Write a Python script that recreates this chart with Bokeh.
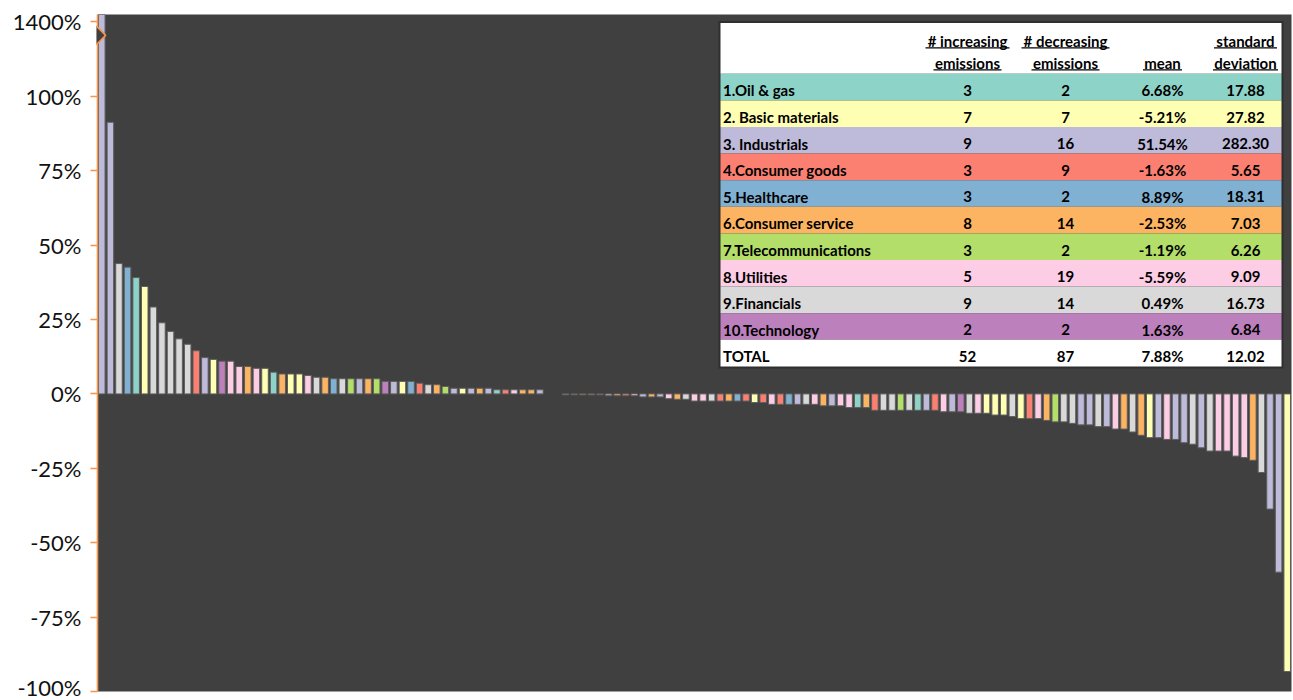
from bokeh.plotting import figure
from bokeh.models import Range1d, FixedTicker, ColumnDataSource
from bokeh.embed import file_html
from bokeh.resources import INLINE
from bokeh.core.properties import value

# ---------------- data ----------------
SECTORS = ["1.Oil & gas", "2. Basic materials", "3. Industrials", "4.Consumer goods",
           "5.Healthcare", "6.Consumer service", "7.Telecommunications", "8.Utilities",
           "9.Financials", "10.Technology"]
SECTOR_COLORS = ["#8dd3c7", "#ffffb3", "#bebada", "#fb8072", "#80b1d3",
                 "#fdb462", "#b3de69", "#fccde5", "#d9d9d9", "#bc80bd"]
N_INCREASING = [3, 7, 9, 3, 3, 8, 3, 5, 9, 2]
N_DECREASING = [2, 7, 16, 9, 2, 14, 2, 19, 14, 2]
MEAN_CHANGE = ["6.68%", "-5.21%", "51.54%", "-1.63%", "8.89%",
               "-2.53%", "-1.19%", "-5.59%", "0.49%", "1.63%"]
STD_DEV = ["17.88", "27.82", "282.30", "5.65", "18.31",
           "7.03", "6.26", "9.09", "16.73", "6.84"]
TOTAL_ROW = ["TOTAL", "52", "87", "7.88%", "12.02"]
HEADER_LINE1 = ["", "# increasing", "# decreasing", "", "standard"]
HEADER_LINE2 = ["", "emissions", "emissions", "mean", "deviation"]

# change in emissions (%) per company, sorted; sector number (1..10) per company
bar_values = [
    1400, 91.3, 43.8, 42.6, 39.1, 36.1, 29.2, 23.9, 21.0, 18.5,
    16.7, 14.5, 12.2, 11.6, 11.0, 11.0, 9.2, 9.2, 8.6, 8.6,
    7.3, 6.7, 6.7, 6.7, 6.2, 5.6, 5.6, 5.1, 5.1, 5.1,
    5.1, 5.1, 5.1, 4.2, 4.2, 4.2, 4.2, 3.6, 3.1, 3.1,
    2.5, 1.9, 1.9, 1.9, 1.9, 1.9, 1.4, 1.4, 1.4, 1.4,
    1.4, 1.4, 0.0, 0.0, -0.3, -0.3, -0.3, -0.3, -0.3, -0.6,
    -0.6, -0.6, -0.6, -1.0, -1.0, -1.0, -1.6, -1.8, -1.8, -2.4,
    -2.4, -2.4, -2.4, -2.4, -2.4, -2.4, -2.9, -2.9, -3.5, -3.5,
    -3.5, -3.5, -3.5, -3.5, -4.0, -4.0, -4.0, -4.6, -4.6, -4.6,
    -5.5, -5.5, -5.5, -5.5, -5.5, -5.5, -5.5, -5.5, -6.0, -6.0,
    -6.0, -6.5, -6.5, -6.5, -7.1, -7.1, -7.6, -8.3, -8.3, -8.3,
    -8.9, -9.4, -9.4, -9.9, -10.4, -10.4, -11.0, -11.0, -11.8, -11.8,
    -12.8, -13.9, -14.7, -14.7, -15.3, -15.3, -16.4, -16.9, -18.1, -19.2,
    -19.2, -19.2, -20.9, -21.4, -22.3, -26.4, -38.7, -59.9, -93.3]
bar_sector = [
    3, 3, 9, 5, 1, 2, 9, 9, 9, 9,
    9, 4, 3, 2, 10, 8, 8, 6, 8, 2,
    1, 6, 2, 2, 8, 9, 6, 5, 9, 7,
    3, 6, 7, 10, 3, 2, 5, 4, 9, 6,
    7, 3, 2, 3, 6, 3, 1, 4, 8, 6,
    6, 3, 6, 8, 6, 10, 6, 6, 4, 3,
    6, 4, 8, 3, 6, 3, 8, 6, 9, 8,
    8, 9, 4, 6, 5, 4, 2, 4, 8, 4,
    5, 3, 9, 8, 6, 3, 8, 8, 1, 6,
    4, 9, 9, 7, 9, 1, 3, 4, 8, 3,
    10, 9, 8, 2, 2, 2, 9, 2, 4, 8,
    6, 7, 9, 9, 3, 3, 9, 3, 8, 6,
    9, 6, 2, 3, 8, 3, 3, 9, 3, 9,
    8, 8, 8, 8, 6, 9, 3, 3, 2]

Y_TICKS = [-100, -75, -50, -25, 0, 25, 50, 75, 100]
Y_TICK_LABELS = ["-100%", "-75%", "-50%", "-25%", "0%", "25%", "50%", "75%", "100%"]
BREAK_TICK_LABEL = "1400%"

# ---------------- layout / style ----------------
W, H = 1293, 700
B_LEFT, B_RIGHT, B_TOP, B_BOTTOM = 97, 2, 14, 9
FRAME_W = W - B_LEFT - B_RIGHT
FRAME_H = H - B_TOP - B_BOTTOM
Y_MIN, Y_MAX = -100, 127.5
AXIS_CAP = 100          # above this the axis is broken
BREAK_TICK_POS = 125
ORANGE = "#f5944b"
BG = "#404040"
FONT = value("Lato")

N = len(bar_values)
p = figure(width=W, height=H, output_backend="svg", toolbar_location=None,
           x_range=Range1d(-0.5, N - 0.5), y_range=Range1d(Y_MIN, Y_MAX),
           x_axis_location=None, min_border_left=B_LEFT, min_border_right=B_RIGHT,
           min_border_top=B_TOP, min_border_bottom=B_BOTTOM)
p.background_fill_color = BG
p.border_fill_color = "white"
p.outline_line_color = None
p.grid.visible = False

# y axis
ax = p.yaxis[0]
ax.ticker = FixedTicker(ticks=Y_TICKS + [BREAK_TICK_POS])
overrides = {t: lab for t, lab in zip(Y_TICKS, Y_TICK_LABELS)}
overrides[BREAK_TICK_POS] = BREAK_TICK_LABEL
ax.major_label_overrides = overrides
ax.axis_line_color = ORANGE
ax.axis_line_width = 1.6
ax.major_tick_line_color = ORANGE
ax.major_tick_line_width = 1.6
ax.major_tick_out = 7
ax.major_tick_in = 0
ax.minor_tick_line_color = None
ax.major_label_standoff = 9
ax.major_label_text_font = "Lato"
ax.major_label_text_font_size = "22px"
ax.major_label_text_color = "#111111"

# bars
disp = [min(v, Y_MAX) if v > AXIS_CAP else v for v in bar_values]
src = ColumnDataSource(dict(
    x=list(range(N)), top=disp,
    color=[SECTOR_COLORS[s - 1] for s in bar_sector],
    la=[0.0 if v == 0 else 1.0 for v in bar_values]))
p.vbar(x="x", top="top", bottom=0, width=0.76, source=src,
       fill_color="color", line_color="#5e5e5e", line_alpha="la", line_width=1)

# axis break marker on the first (off-scale) bar
bx = [-0.62, -0.5 + 0.95, -0.62]
by = [123.6, 120.5, 117.4]
p.patch(bx, by, fill_color=BG, line_color=None, level="overlay")
p.line(bx, by, line_color=ORANGE, line_width=1.6, level="overlay")

# ---------------- table (frame pixel coordinates) ----------------
p.extra_x_ranges = {"px": Range1d(0, FRAME_W)}
p.extra_y_ranges = {"px": Range1d(FRAME_H, 0)}
TBL_L, TBL_R, TBL_T = 623, 1184, 8.5
HDR_B, ROW_H = 59.3, 26.6
COL_X = [TBL_L + 2.5, 870, 968, 1065, 1148]
COL_ALIGN = ["left", "center", "center", "center", "center"]
UL_W = {"# increasing": 84, "# decreasing": 88, "emissions": 68, "mean": 39,
        "standard": 63, "deviation": 65}

rows = [[SECTORS[i], str(N_INCREASING[i]), str(N_DECREASING[i]), MEAN_CHANGE[i], STD_DEV[i]]
        for i in range(len(SECTORS))] + [TOTAL_ROW]
row_colors = SECTOR_COLORS + ["white"]
n_rows = len(rows)
tbl_bottom = HDR_B + n_rows * ROW_H

kw = dict(x_range_name="px", y_range_name="px")
p.quad(left=TBL_L - 2, right=TBL_R + 2, top=TBL_T - 2, bottom=tbl_bottom + 2,
       fill_color="#2f2f2f", line_color=None, **kw)
p.quad(left=TBL_L, right=TBL_R, top=TBL_T, bottom=HDR_B,
       fill_color="white", line_color=None, **kw)
p.quad(left=[TBL_L] * n_rows, right=[TBL_R] * n_rows,
       top=[HDR_B + i * ROW_H for i in range(n_rows)],
       bottom=[HDR_B + (i + 1) * ROW_H for i in range(n_rows)],
       fill_color=row_colors, line_color=None, **kw)

tx, ty, tt, ta = [], [], [], []
for i, r in enumerate(rows):
    mid = HDR_B + (i + 1) * ROW_H - 10.0
    for j, cell in enumerate(r):
        tx.append(COL_X[j]); ty.append(mid); tt.append(cell); ta.append(COL_ALIGN[j])
ux0, ux1, uy = [], [], []
for j in range(len(COL_X)):
    for line_txt, mid, ul in ((HEADER_LINE1[j], 26.0, 33.3), (HEADER_LINE2[j], 48.0, 55.3)):
        if not line_txt:
            continue
        tx.append(COL_X[j]); ty.append(mid); tt.append(line_txt); ta.append("center")
        w = UL_W[line_txt]
        ux0.append(COL_X[j] - w / 2); ux1.append(COL_X[j] + w / 2); uy.append(ul)

tsrc = ColumnDataSource(dict(x=tx, y=ty, text=tt, align=ta))
p.text(x="x", y="y", text="text", text_align="align", text_baseline="middle",
       text_font=FONT, text_font_style="bold", text_font_size="15px",
       text_color="black", source=tsrc, **kw)
p.segment(x0=ux0, y0=uy, x1=ux1, y1=uy, line_color="black", line_width=1.2, **kw)

open("out.html", "w").write(file_html(p, INLINE))
